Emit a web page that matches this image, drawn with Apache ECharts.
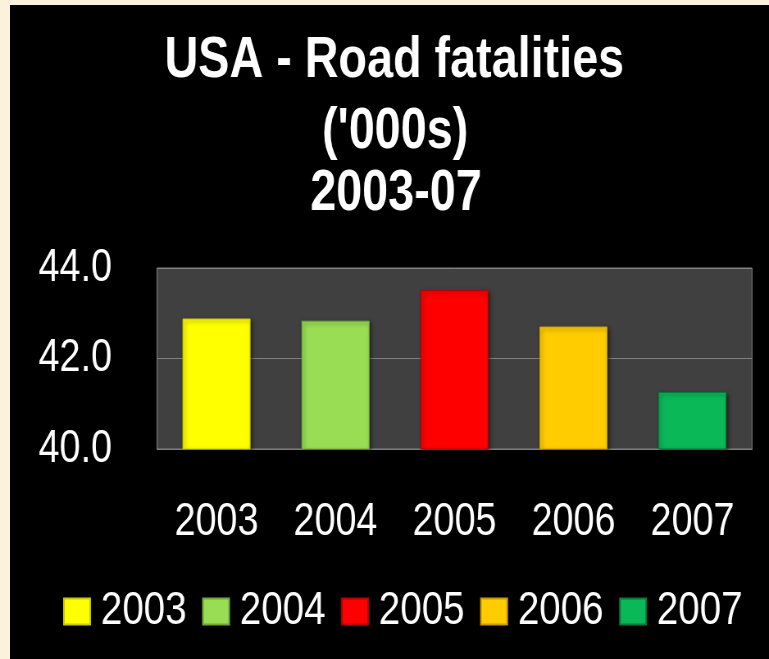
<!DOCTYPE html>
<html>
<head>
<meta charset="utf-8">
<script src="https://cdn.jsdelivr.net/npm/echarts@6/dist/echarts.min.js"></script>
<style>
  html, body { margin: 0; padding: 0; background: #fcf1dc; overflow: hidden; }
  #panel { position: absolute; left: 10px; top: 5px; width: 759px; height: 654px; background: #000; }
  /* the reference text is horizontally squeezed, so draw wider and condense */
  #main { position: absolute; left: 0; top: 0; width: 938px; height: 659px;
          transform: scaleX(0.8198); transform-origin: 0 0; }
</style>
</head>
<body>
<div id="panel"></div>
<div id="main"></div>
<script>
const years = ['2003', '2004', '2005', '2006', '2007'];
const fatalities = [42.884, 42.836, 43.510, 42.708, 41.259];
const barColors = ['#ffff00', '#99dd55', '#ff0000', '#ffcc00', '#0ab858'];
const edgeColors = ['#c8c800', '#6fa83a', '#b80000', '#c89a00', '#067a3a'];
const titleLines = ["USA - Road fatalities", "('000s)", "2003-07"];

const font = "'Liberation Sans', Arial, sans-serif";

let chart = echarts.init(document.getElementById('main'));

const series = years.map((y, i) => ({
  name: y,
  type: 'bar',
  stack: 'all',
  barWidth: 83,
  data: years.map((_, j) => (j === i ? fatalities[j] : '-')),
  itemStyle: {
    color: barColors[i],
    borderColor: edgeColors[i],
    borderWidth: 1,
    shadowColor: 'rgba(0,0,0,0.5)',
    shadowBlur: 4,
    shadowOffsetX: 2,
    shadowOffsetY: 2
  }
}));

const option = {
  animation: false,
  textStyle: { fontFamily: font },
  title: [
    { text: titleLines[0], top: 33, left: 481 },
    { text: titleLines[1], top: 104, left: 482 },
    { text: titleLines[2], top: 166, left: 483 }
  ].map(t => Object.assign(t, {
    textAlign: 'center',
    padding: 0,
    textStyle: { color: '#fff', fontSize: 57, fontWeight: 'bold', fontFamily: font }
  })),
  legend: {
    data: years,
    left: 77,
    top: 588,
    itemWidth: 32,
    itemHeight: 26,
    itemGap: 19,
    padding: 0,
    icon: 'rect',
    textStyle: { color: '#fff', fontSize: 47, fontFamily: font, padding: [0, 0, 0, 8] }
  },
  grid: {
    left: 191.5, right: 20.7, top: 268, bottom: 210,
    show: true,
    backgroundColor: '#404040',
    borderColor: '#808080',
    borderWidth: 1
  },
  xAxis: {
    type: 'category',
    data: years,
    axisTick: { show: false },
    axisLine: { lineStyle: { color: '#808080', width: 1 } },
    axisLabel: { color: '#fff', fontSize: 46, margin: 50, fontFamily: font }
  },
  yAxis: {
    type: 'value',
    min: 40,
    max: 44,
    interval: 2,
    axisLine: { show: false },
    axisTick: { show: false },
    splitLine: { lineStyle: { color: '#808080', width: 1 } },
    axisLabel: {
      color: '#fff', fontSize: 46, margin: 55, fontFamily: font,
      formatter: v => v.toFixed(1)
    }
  },
  series: series
};

chart.setOption(option);
</script>
</body>
</html>
